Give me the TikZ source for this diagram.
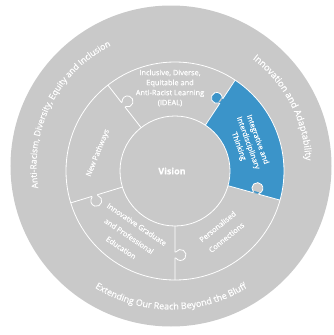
\documentclass[tikz,border=0pt]{standalone}
\usepackage{fontspec}
\setmainfont{Open Sans}[FakeBold=0.6]
\usetikzlibrary{decorations.text}
\definecolor{ringgray}{RGB}{201,201,201}
\definecolor{pieceblue}{RGB}{59,148,201}

\begin{document}
\begin{tikzpicture}[x=1pt, y=1pt]
\tikzstyle{cut}=[draw=white, line width=0.8pt]
\tikzstyle{label}=[text=white, align=center, inner sep=0pt, font=\fontsize{7.4}{10}\selectfont]
\tikzstyle{wide}=[label, font=\fontsize{7.4}{14}\selectfont]
\tikzstyle{rim}=[decorate, decoration={text along path, text align=center, text color=white}]

\useasboundingbox (-171,-169) rectangle (163,166);
\fill[ringgray] (0,0) circle (160.5);

% puzzle ring, its centre sits a little off the disc
\coordinate (p) at (4,-5);
\begin{scope}[shift={(p)}]
\fill[pieceblue] (-15.5:109) arc[start angle=-15.5, end angle=56.5, radius=109]
  -- (56.5:55) arc[start angle=56.5, end angle=-15.5, radius=55] -- cycle;
\fill[pieceblue, rotate=56.5] (84,5.5) circle (5.5) (81,-0.5) rectangle (87,2);
\fill[ringgray, rotate=-15.5] (84,5.5) circle (5.5) (81,0.4) rectangle (87,2);

\draw[cut] (0,0) circle (55) (0,0) circle (109);
\foreach \a/\s in {128/-1, 56.5/1, -15.5/1, -90/1, 197/1}
  \draw[cut, rotate=\a, yscale=\s] (55,0) -- (81,0) -- (81,0.89)
    arc[start angle=236.9, end angle=-56.9, radius=5.5] -- (87,0) -- (109,0);
\end{scope}

\node[label, font=\bfseries\fontsize{9}{10}\selectfont] (vision) at (1,-5) {Vision};
\node[label] (ideal) at (-1,78) {Inclusive, Diverse,\\Equitable and\\Anti-Racist Learning\\(IDEAL)};
\node[label, rotate=-70] (thinking) at (77,23) {Integrative and\\Interdisciplinary\\Thinking};
\node[wide, rotate=39] (personal) at (51,-66) {Personalised\\Connections};
\node[wide, rotate=-34] (graduate) at (-42,-70) {Innovative Graduate\\and Professional\\Education};
\node[label, rotate=68] (pathways) at (-73,13) {New Pathways};

% outer ring
\path[rim, decoration={text={|\fontsize{8.6}{8}\selectfont|Anti-Racism, Diversity, Equity and Inclusion}}]
  (213:134.5) arc[start angle=213, end angle=93, radius=134.5];
\path[rim, decoration={text={|\fontsize{9.2}{8}\selectfont|Innovation and Adaptability}}]
  (72:134.5) arc[start angle=72, end angle=-17, radius=134.5];
\path[rim, decoration={text={|\fontsize{9}{8}\selectfont|Extending Our Reach Beyond the Bluff}}]
  (215:143.5) arc[start angle=215, end angle=325, radius=143.5];
\end{tikzpicture}
\end{document}
